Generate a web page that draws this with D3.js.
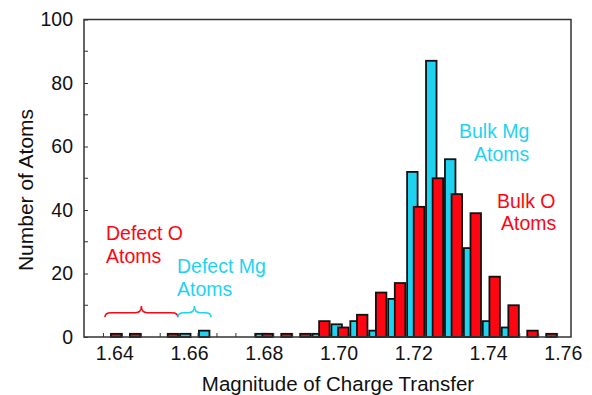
<!DOCTYPE html>
<html>
<head>
<meta charset="utf-8">
<script src="https://cdn.jsdelivr.net/npm/d3@7"></script>
<style>
  body { margin: 0; background: #fff; }
  text { font-family: Helvetica, "Liberation Sans", Arial, sans-serif; }
</style>
</head>
<body>
<div id="chart"></div>
<script>
// Histogram bins (charge transfer magnitude)
const binStart = 1.6371;
const binWidth = 0.005063;
const mgCounts = [0, 0, 0, 0, 1, 2, 0, 0, 1, 0, 0, 1, 4, 5, 2, 12, 52, 87, 56, 28, 5, 3, 0, 0];
const oCounts  = [1, 1, 0, 1, 0, 0, 0, 0, 1, 1, 1, 5, 3, 7, 14, 17, 41, 50, 45, 39, 19, 10, 2, 1];

const xTickValues = [1.64, 1.66, 1.68, 1.70, 1.72, 1.74, 1.76];
const yTickValues = [0, 20, 40, 60, 80, 100];
const yMinorValues = [10, 30, 50, 70, 90];

// Annotations: label lines and brace spans (data units)
const bulkMgLabel = ["Bulk Mg", "Atoms"];
const bulkOLabel = ["Bulk O", "Atoms"];
const defectOLabel = ["Defect O", "Atoms"];
const defectMgLabel = ["Defect Mg", "Atoms"];
const defectOBrace = [1.6375, 1.6570];
const defectMgBrace = [1.6570, 1.6659];

const width = 592, height = 395;
const marginLeft = 84, marginRight = 21, marginTop = 19.5, marginBottom = 58;
const red = "#ff0512", cyan = "#1fd3f0";

const x = d3.scaleLinear()
  .domain([1.6319, 1.7622])
  .range([marginLeft, width - marginRight]);

const y = d3.scaleLinear()
  .domain([0, 100])
  .range([height - marginBottom, marginTop]);

const svg = d3.select("#chart").append("svg")
  .attr("width", width)
  .attr("height", height)
  .attr("viewBox", [0, 0, width, height]);

const bins = mgCounts.map((d, i) => ({
  x0: binStart + i * binWidth,
  mg: d,
  o: oCounts[i]
}));

const barW = binWidth * 0.65;
const redOffset = binWidth * 0.35;

// Bars: Mg (cyan) first, O (red) drawn on top
svg.append("g")
  .selectAll("rect")
  .data(bins.filter(d => d.mg > 0))
  .join("rect")
  .attr("x", d => x(d.x0) + 0.9)
  .attr("y", d => y(d.mg))
  .attr("width", x(binStart + barW) - x(binStart) - 1.8)
  .attr("height", d => y(0) - y(d.mg))
  .attr("fill", cyan)
  .attr("stroke", "#111")
  .attr("stroke-width", 1.8);

svg.append("g")
  .selectAll("rect")
  .data(bins.filter(d => d.o > 0))
  .join("rect")
  .attr("x", d => x(d.x0 + redOffset) + 0.9)
  .attr("y", d => y(d.o))
  .attr("width", x(binStart + barW) - x(binStart) - 1.8)
  .attr("height", d => y(0) - y(d.o))
  .attr("fill", red)
  .attr("stroke", "#111")
  .attr("stroke-width", 1.8);

// Frame
svg.append("rect")
  .attr("x", marginLeft)
  .attr("y", marginTop)
  .attr("width", width - marginRight - marginLeft)
  .attr("height", height - marginBottom - marginTop)
  .attr("fill", "none")
  .attr("stroke", "#333")
  .attr("stroke-width", 1.5);

// Axes with inward ticks
const yAxis = svg.append("g")
  .attr("transform", `translate(${marginLeft},0)`)
  .call(d3.axisLeft(y).tickValues(yTickValues).tickSize(-4).tickPadding(11));
yAxis.append("g").selectAll("line")
  .data(yMinorValues)
  .join("line")
  .attr("x1", 0).attr("x2", 4)
  .attr("y1", d => y(d)).attr("y2", d => y(d))
  .attr("stroke", "#333");

const binEdges = d3.range(mgCounts.length + 1).map(i => binStart + i * binWidth);
const xAxis = svg.append("g")
  .attr("transform", `translate(0,${height - marginBottom})`)
  .call(d3.axisBottom(x).tickValues(xTickValues).tickSize(0).tickPadding(9)
    .tickFormat(d3.format(".2f")));
xAxis.append("g").selectAll("line")
  .data(binEdges)
  .join("line")
  .attr("x1", d => x(d)).attr("x2", d => x(d))
  .attr("y1", 0).attr("y2", -4)
  .attr("stroke", "#333");

[xAxis, yAxis].forEach(axis => {
  axis.select(".domain").remove();
  axis.selectAll(".tick line").attr("stroke", "#333");
  axis.selectAll(".tick text")
    .attr("fill", "#111")
    .style("font-size", "19.5px")
    .style("font-family", "Helvetica, 'Liberation Sans', Arial, sans-serif");
});

// Axis titles
svg.append("text")
  .attr("transform", `translate(338,391)`)
  .attr("text-anchor", "middle")
  .style("font-size", "20.5px")
  .attr("fill", "#111")
  .text("Magnitude of Charge Transfer");

svg.append("text")
  .attr("transform", `translate(33,190) rotate(-90)`)
  .attr("text-anchor", "middle")
  .style("font-size", "21px")
  .attr("fill", "#111")
  .text("Number of Atoms");

// Labels
function label(lines, positions, color) {
  svg.append("g")
    .selectAll("text")
    .data(lines)
    .join("text")
    .attr("x", (d, i) => positions[i][0])
    .attr("y", (d, i) => positions[i][1])
    .attr("fill", color)
    .style("font-size", "19.5px")
    .text(d => d);
}
label(bulkMgLabel, [[459, 138], [474, 161]], cyan);
label(bulkOLabel, [[497, 208], [501, 230]], red);
label(defectOLabel, [[106, 240], [106, 263]], red);
label(defectMgLabel, [[177, 273], [177, 296]], cyan);

// Curly braces
function bracePath(a, b) {
  const y0 = 312.7, d = 4.5, t = 6.7, m = (a + b) / 2, r = 6;
  return `M${a},${y0 + d} Q${a},${y0} ${a + r},${y0} L${m - r},${y0} Q${m},${y0} ${m},${y0 - t}` +
    ` Q${m},${y0} ${m + r},${y0} L${b - r},${y0} Q${b},${y0} ${b},${y0 + d}`;
}
svg.append("path")
  .attr("d", bracePath(x(defectOBrace[0]), x(defectOBrace[1])))
  .attr("fill", "none").attr("stroke", red).attr("stroke-width", 1.5);
svg.append("path")
  .attr("d", bracePath(x(defectMgBrace[0]), x(defectMgBrace[1])))
  .attr("fill", "none").attr("stroke", cyan).attr("stroke-width", 1.5);
</script>
</body>
</html>
